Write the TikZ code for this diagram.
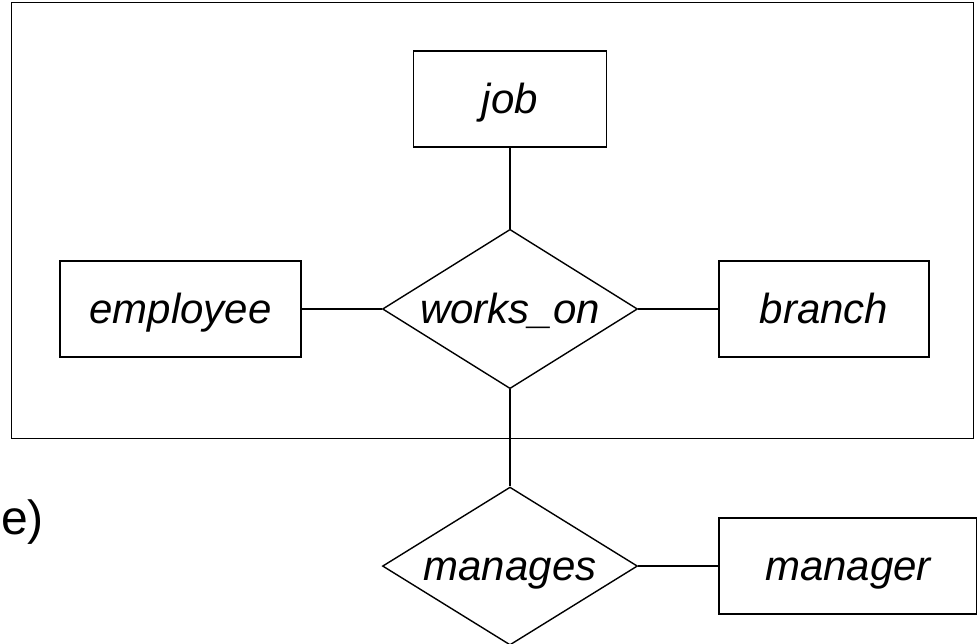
\documentclass[tikz,border=0pt]{standalone}
\usepackage{fontspec}
\setmainfont{Liberation Sans}
\usepackage{tikz}
\usetikzlibrary{shapes.geometric,positioning,fit}

\begin{document}
\begin{tikzpicture}[
    x=1pt, y=1pt,
    node distance=80pt,
    entity/.style={rectangle, draw, line width=1.4pt, minimum height=96pt, inner sep=0pt, text height=38pt, text depth=9pt, font=\fontsize{42}{50}\selectfont\itshape},
    relation/.style={diamond, draw, line width=1.4pt, aspect=1.6, inner sep=0pt, minimum width=255pt, minimum height=158pt, text height=38pt, text depth=9pt, font=\fontsize{42}{50}\selectfont\itshape},
    link/.style={line width=1.4pt}
]
    \useasboundingbox (0,0) rectangle (977,644);
    \node[relation] (works) at (510,335) {works\_on};
    \node[entity, minimum width=241pt, left=of works] (employee) {employee};
    \node[entity, minimum width=210pt, right=of works] (branch) {branch};
    \node[entity, minimum width=193pt, above=81pt of works] (job) {job};
    \node[draw, line width=1.4pt, inner xsep=46pt, inner ysep=48.5pt, xshift=-2pt, yshift=-0.5pt, fit=(employee)(branch)(job)(works)] (aggr) {};
    \node[relation, below=97pt of works] (manages) {manages};
    \node[entity, minimum width=258pt, right=of manages] (manager) {manager};
    \node[anchor=base west, inner sep=0pt, font=\fontsize{48}{56}\selectfont] (frag) at (1,109) {e)};

    \draw[link] (employee) -- (works);
    \draw[link] (works) -- (branch);
    \draw[link] (job) -- (works);
    \draw[link] (works.south) -- (manages.north);
    \draw[link] (manages) -- (manager);
\end{tikzpicture}
\end{document}
